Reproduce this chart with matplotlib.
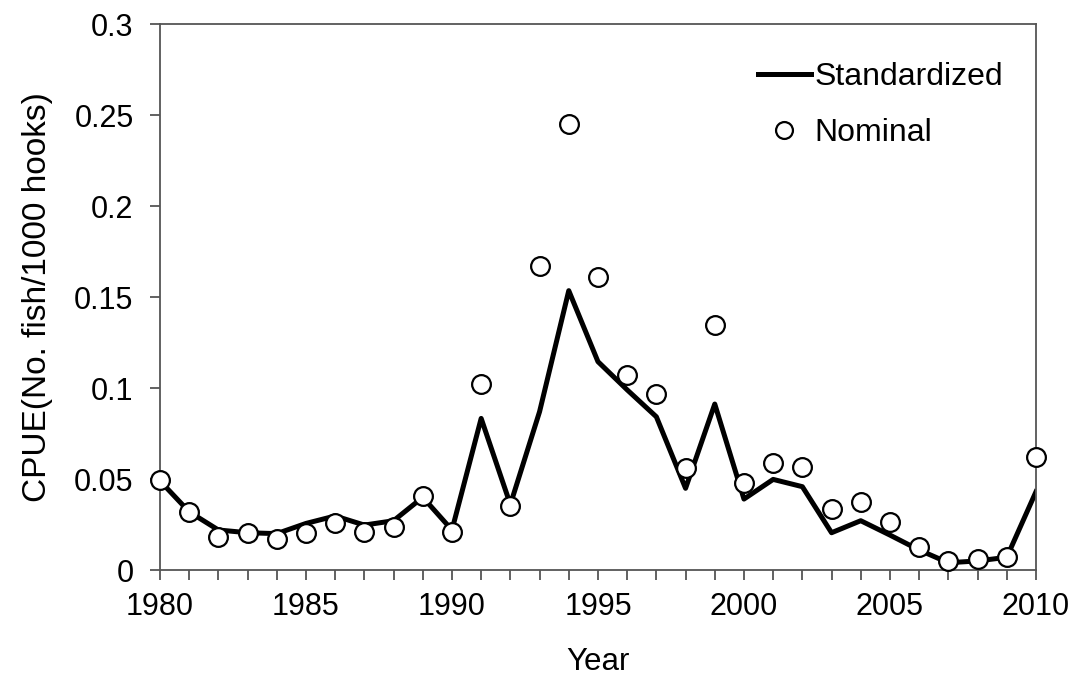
import numpy as np
import matplotlib
matplotlib.use("Agg")
from matplotlib import pyplot as plt
from matplotlib.ticker import MultipleLocator

plt.rcParams['font.family'] = ['Liberation Sans', 'DejaVu Sans']

years = np.arange(1980, 2011)
standardized = [0.049, 0.032, 0.022, 0.0205, 0.020, 0.0256, 0.0297, 0.0247, 0.0271, 0.040,
                0.022, 0.0833, 0.036, 0.087, 0.1535, 0.1145, 0.099, 0.0842, 0.0449, 0.0912,
                0.0390, 0.0498, 0.0458, 0.0205, 0.0271, 0.0192, 0.011, 0.004, 0.005, 0.007,
                0.043]
nominal = [0.0495, 0.0317, 0.0183, 0.0201, 0.0168, 0.0201, 0.0256, 0.0211, 0.0234, 0.0408,
           0.0211, 0.102, 0.0352, 0.167, 0.245, 0.161, 0.107, 0.0966, 0.0559, 0.1346,
           0.0476, 0.0586, 0.0568, 0.0333, 0.0375, 0.0266, 0.0128, 0.0051, 0.0059, 0.007,
           0.0619]
yticks = [0, 0.05, 0.1, 0.15, 0.2, 0.25, 0.3]
ytick_labels = ['0', '0.05', '0.1', '0.15', '0.2', '0.25', '0.3']

fig = plt.figure(figsize=(10.78, 6.77), dpi=100)
ax = fig.add_axes([0.1484, 0.158, 0.8126, 0.8065])

ax.plot(years, standardized, color='black', lw=3.6, label='Standardized', zorder=2)
ax.plot(years, nominal, ls='none', marker='o', ms=13.5, mfc='white', mec='black',
        mew=1.6, label='Nominal', zorder=3, clip_on=False)

ax.set_xlim(1980, 2010)
ax.set_ylim(0, 0.3)
ax.xaxis.set_major_locator(MultipleLocator(5))
ax.xaxis.set_minor_locator(MultipleLocator(1))
ax.set_yticks(yticks)
ax.set_yticklabels(ytick_labels)

for s in ax.spines.values():
    s.set_color('#555555')
    s.set_linewidth(1.3)
ax.tick_params(which='both', direction='out', length=7, width=1.3, color='#555555',
               labelsize=22)
ax.tick_params(axis='y', pad=12)
ax.tick_params(axis='x', which='major', pad=9)

ax.set_xlabel('Year', fontsize=22.5, labelpad=18)
ax.set_ylabel('CPUE(No. fish/1000 hooks)', fontsize=24, labelpad=15)

leg = ax.legend(loc='upper right', frameon=False, fontsize=23, handlelength=1.65,
                handletextpad=0.12, markerscale=0.9, borderaxespad=0.0,
                bbox_to_anchor=(0.977, 0.953), labelspacing=0.8)

fig.savefig('out.png', dpi=100)
